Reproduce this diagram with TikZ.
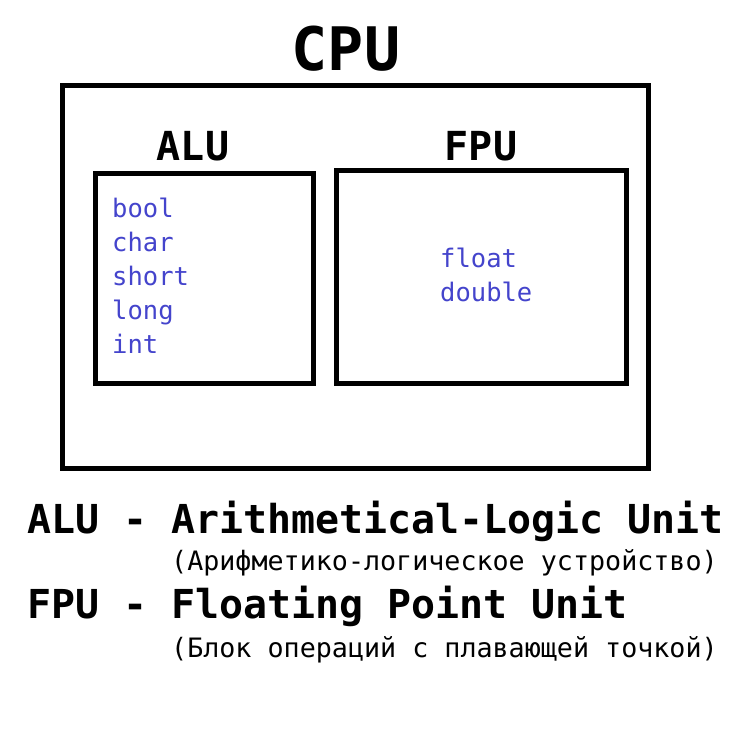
\documentclass[tikz,border=0pt]{standalone}
\usepackage{fontspec}
\setmonofont{DejaVu Sans Mono}
\definecolor{typeblue}{RGB}{68,68,204}
\begin{document}
\begin{tikzpicture}[x=1pt,y=-1pt,
  box/.style={draw=black,line width=5pt,rectangle,inner sep=0pt},
  title/.style={inner sep=0pt,anchor=base,font=\ttfamily\bfseries\fontsize{40}{40}\selectfont},
  types/.style={inner sep=0pt,anchor=base west,text=typeblue,align=left,font=\ttfamily\fontsize{25.5}{34}\selectfont},
  legend/.style={inner sep=0pt,anchor=base west,font=\ttfamily\bfseries\fontsize{39.9}{40}\selectfont},
  trans/.style={inner sep=0pt,anchor=base west,font=\ttfamily\fontsize{26.7}{27}\selectfont}]
\useasboundingbox[fill=white] (0,0) rectangle (756,732);
\node[box,minimum width=586pt,minimum height=383pt] (cpu) at (355,276.5) {};
\node[box,minimum width=217.5pt,minimum height=209.5pt] (alu) at (204.25,278.25) {};
\node[box,minimum width=289.5pt,minimum height=212.5pt] (fpu) at (481.25,276.75) {};
\node[title,font=\ttfamily\bfseries\fontsize{60}{60}\selectfont] (cputitle) at (346,70) {CPU};
\node[title] (alutitle) at (193,160) {ALU};
\node[title] (fputitle) at (481,160) {FPU};
\node[types] (alutypes) at (112,353) {bool\\char\\short\\long\\int};
\node[types] (fputypes) at (440,301) {float\\double};
\node[legend] (alulegend) at (27,533) {ALU - Arithmetical-Logic Unit};
\node[trans] (alutrans) at (171,570) {(Арифметико-логическое устройство)};
\node[legend] (fpulegend) at (27,618) {FPU - Floating Point Unit};
\node[trans] (fputrans) at (171,657) {(Блок операций с плавающей точкой)};
\end{tikzpicture}
\end{document}
